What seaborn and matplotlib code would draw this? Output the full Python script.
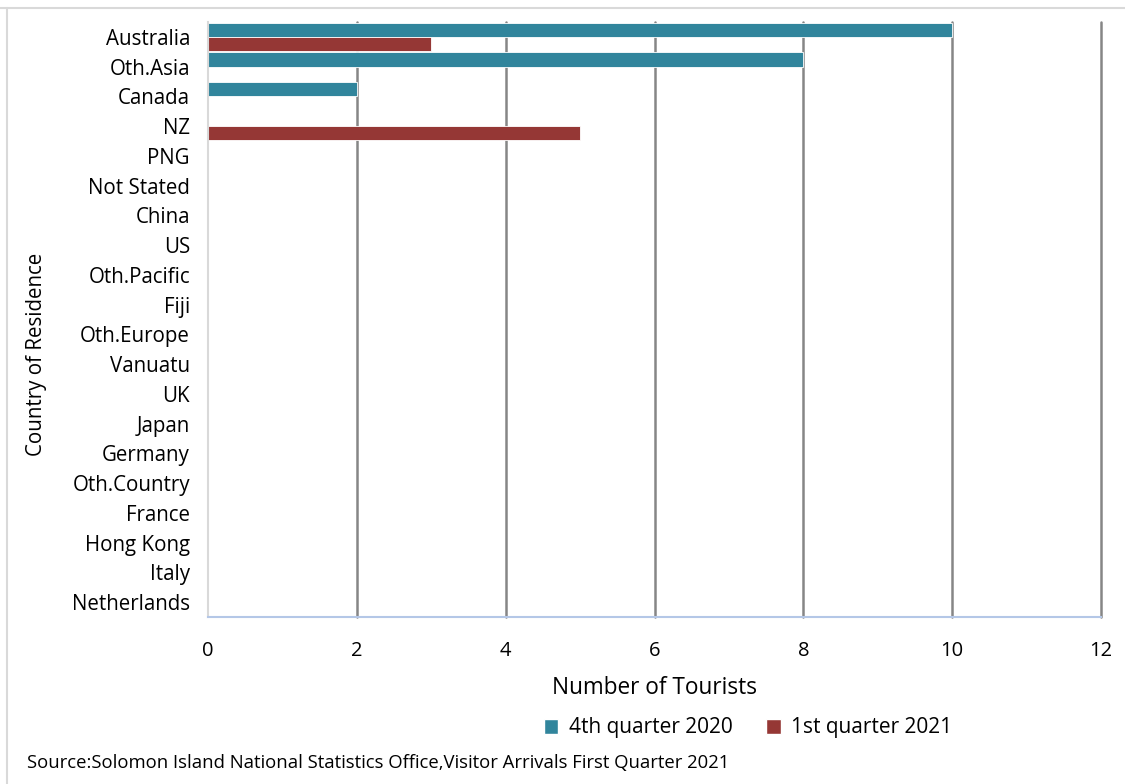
import pandas as pd
import matplotlib
matplotlib.use("Agg")
import matplotlib.pyplot as plt
import seaborn as sns
from matplotlib.patches import Patch
from matplotlib.lines import Line2D

countries = ["Australia", "Oth.Asia", "Canada", "NZ", "PNG", "Not Stated", "China",
             "US", "Oth.Pacific", "Fiji", "Oth.Europe", "Vanuatu", "UK", "Japan",
             "Germany", "Oth.Country", "France", "Hong Kong", "Italy", "Netherlands"]
q4_2020 = [10, 8, 2, 0, 0, 0, 0, 0, 0, 0, 0, 0, 0, 0, 0, 0, 0, 0, 0, 0]
q1_2021 = [3, 0, 0, 5, 0, 0, 0, 0, 0, 0, 0, 0, 0, 0, 0, 0, 0, 0, 0, 0]
series = ["4th quarter 2020", "1st quarter 2021"]
colors = ["#31859C", "#953735"]
x_ticks = [0, 2, 4, 6, 8, 10, 12]

df = pd.DataFrame({
    "country": countries * 2,
    "tourists": q4_2020 + q1_2021,
    "period": [series[0]] * len(countries) + [series[1]] * len(countries),
})

sns.set_style("white")
plt.rcParams["font.family"] = ["Open Sans", "DejaVu Sans"]
plt.rcParams["text.color"] = "black"
plt.rcParams["xtick.color"] = "black"
plt.rcParams["ytick.color"] = "black"
plt.rcParams["axes.labelcolor"] = "black"

fig = plt.figure(figsize=(11.25, 7.84), dpi=100)
ax = fig.add_axes([208 / 1125, 1 - 617 / 784, (1101 - 208) / 1125, (617 - 22) / 784])

sns.barplot(data=df, y="country", x="tourists", hue="period", order=countries,
            hue_order=series, palette=colors, saturation=1, orient="h", width=0.95,
            edgecolor="white", linewidth=0.6, legend=False, ax=ax)

ax.set_xlim(0, 12)
ax.set_xticks(x_ticks)
ax.set_xticklabels([str(t) for t in x_ticks], fontsize=14.5)
ax.tick_params(axis="y", labelsize=14.8, length=0, pad=13)
ax.tick_params(axis="x", length=0, pad=17)
for t in x_ticks[1:]:
    ax.axvline(t, color="#868686", linewidth=1.8, zorder=0, clip_on=False)
for s in ["top", "right"]:
    ax.spines[s].set_visible(False)
ax.spines["left"].set_color("#D9D9D9")
ax.spines["left"].set_linewidth(1.5)
ax.spines["bottom"].set_color("#B4C7E7")
ax.spines["bottom"].set_linewidth(1.5)

ax.set_xlabel("Number of Tourists", fontsize=16.3)
ax.xaxis.set_label_coords((655 - 208) / 893, -(688 - 617) / 595)
ax.set_ylabel("Country of Residence", fontsize=14.8)
ax.yaxis.set_label_coords(-(208 - 37) / 893, (617 - 354) / 595)
ax.xaxis.label.set_va("center")
ax.yaxis.label.set_va("center")

handles = [Patch(facecolor=c, edgecolor="white", label=l) for c, l in zip(colors, series)]
fig.legend(handles=handles, loc="center", bbox_to_anchor=(748 / 1125, 1 - 728 / 784),
           ncol=2, frameon=False, fontsize=15, handlelength=0.7, handleheight=0.7,
           columnspacing=1.6, handletextpad=0.5)

fig.text(27 / 1125, 1 - 763 / 784, "Source:Solomon Island National Statistics Office,Visitor Arrivals First Quarter 2021",
         fontsize=13.3, va="center", ha="left")

# light frame on top and left edge
fig.add_artist(Line2D([0, 1], [1 - 8 / 784, 1 - 8 / 784], color="#D9D9D9", linewidth=1.5))
fig.add_artist(Line2D([7 / 1125, 7 / 1125], [0, 1 - 8 / 784], color="#D9D9D9", linewidth=1.5))

fig.savefig("out.png", dpi=100)
